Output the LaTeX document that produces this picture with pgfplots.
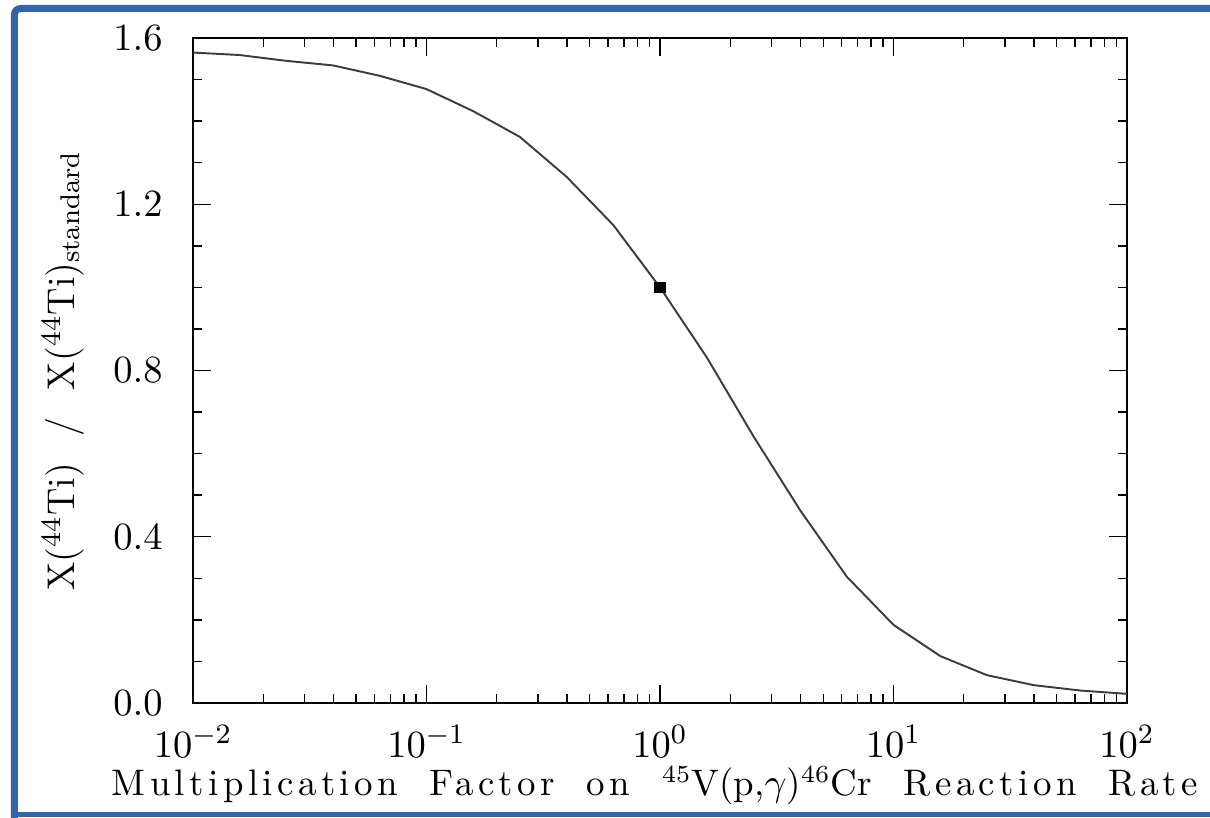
\documentclass[border=0pt]{standalone}
\usepackage{fontspec}
\usepackage{pgfplots}
\pgfplotsset{compat=1.18}
\newfontfamily\spacedfont{lmroman10-regular.otf}[LetterSpace=12, WordSpace=1.9]
\definecolor{frameblue}{RGB}{52,101,164}
\definecolor{curvegray}{RGB}{60,60,60}
\begin{document}
\begin{tikzpicture}
\useasboundingbox (-19.3mm,-11.4mm) rectangle (101.7mm,70.3mm);
\begin{scope}
\clip (-19.3mm,-11.4mm) rectangle (101.7mm,70.3mm);
\draw[frameblue, line width=0.7mm, rounded corners=0.6mm] (110mm,69.45mm) -- (-17.85mm,69.45mm) -- (-17.85mm,-20mm);
\fill[frameblue] (-18.2mm,-11.4mm) rectangle (101.7mm,-10.9mm);
\end{scope}
\begin{axis}[
  at={(0,0)}, anchor=south west,
  scale only axis, width=93.4mm, height=66.5mm,
  xmode=log, xmin=0.01, xmax=100,
  ymin=0, ymax=1.6,
  ytick={0,0.4,0.8,1.2,1.6},
  minor y tick num=3,
  tick align=inside,
  xtick pos=both, ytick pos=both,
  major tick length=1.8mm, minor tick length=0.9mm,
  every tick/.style={black, line width=0.4pt},
  axis line style={line width=0.45pt},
  yticklabel style={/pgf/number format/.cd, fixed, fixed zerofill, precision=1, /tikz/.cd, font=\fontsize{11pt}{13pt}\selectfont, xshift=-1.8mm},
  xticklabel style={font=\fontsize{11pt}{13pt}\selectfont, anchor=base, yshift=-5.4mm},
  ylabel={X($^{44}$Ti)\hspace{0.7em}/\hspace{0.7em}X($^{44}$Ti)$_{\mathrm{standard}}$},
  ylabel style={at={(axis description cs:-0.1274,0.5)}, anchor=base, font=\fontsize{11pt}{13pt}\selectfont},
  xlabel={\spacedfont Multiplication Factor on {\rmfamily$^{45}$V(p,$\gamma$)$^{46}$Cr} Reaction Rate},
  xlabel style={at={(axis description cs:0.4946,-0.1398)}, anchor=base, font=\fontsize{10.5pt}{12pt}\selectfont},
]
\addplot[curvegray, line width=0.55pt] coordinates {
(0.01,1.565) (0.01585,1.559) (0.02512,1.545) (0.03981,1.534) (0.06310,1.509)
(0.1,1.477) (0.1585,1.424) (0.2512,1.362) (0.3981,1.266) (0.6310,1.150)
(1.0,1.000) (1.585,0.832) (2.512,0.642) (3.981,0.464) (6.310,0.304)
(10,0.188) (15.85,0.113) (25.12,0.067) (39.81,0.043) (63.10,0.030) (100,0.022)
};
\addplot[only marks, mark=square*, mark size=0.5mm, black] coordinates {(1,1)};
\end{axis}
\end{tikzpicture}
\end{document}
